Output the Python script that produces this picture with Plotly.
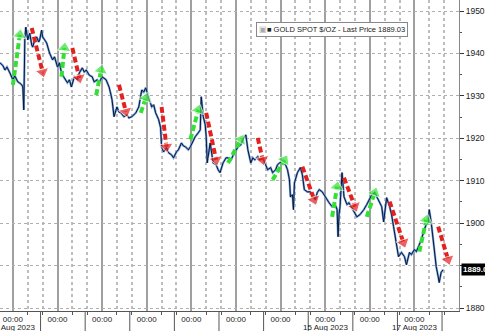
import plotly.graph_objects as go

# time in trading days since 4 Aug 2023 00:00, price in $/oz
t = [-0.289, -0.222, -0.178, -0.133, -0.067, 0.0, 0.044, 0.111, 0.156, 0.2, 0.222, 0.244, 0.267, 0.289,
     0.333, 0.378, 0.422, 0.444, 0.489, 0.533, 0.578, 0.6, 0.644, 0.667, 0.711, 0.756, 0.822, 0.889,
     0.933, 1.0, 1.044, 1.089, 1.156, 1.222, 1.267, 1.311, 1.378, 1.444, 1.489, 1.556, 1.6, 1.644,
     1.711, 1.778, 1.822, 1.889, 1.933, 2.0, 2.089, 2.156, 2.2, 2.222, 2.267, 2.333, 2.378, 2.422,
     2.489, 2.556, 2.6, 2.667, 2.756, 2.822, 2.889, 2.933, 2.978, 3.044, 3.111, 3.156, 3.2, 3.267,
     3.311, 3.333, 3.378, 3.444, 3.489, 3.556, 3.6, 3.667, 3.711, 3.778, 3.822, 3.867, 3.933, 3.978,
     4.044, 4.089, 4.156, 4.2, 4.222, 4.267, 4.311, 4.333, 4.356, 4.4, 4.422, 4.489, 4.556, 4.6,
     4.644, 4.711, 4.778, 4.822, 4.889, 4.933, 4.978, 5.044, 5.111, 5.156, 5.222, 5.267, 5.333,
     5.378, 5.422, 5.489, 5.533, 5.6, 5.644, 5.711, 5.778, 5.822, 5.889, 5.933, 5.978, 6.044, 6.111,
     6.156, 6.2, 6.222, 6.267, 6.289, 6.311, 6.378, 6.444, 6.489, 6.533, 6.6, 6.667, 6.711, 6.778,
     6.822, 6.867, 6.933, 7.0, 7.044, 7.089, 7.156, 7.222, 7.267, 7.289, 7.311, 7.333, 7.378, 7.422,
     7.489, 7.533, 7.6, 7.667, 7.711, 7.778, 7.867, 7.933, 8.0, 8.044, 8.111, 8.156, 8.2, 8.267,
     8.311, 8.356, 8.378, 8.444, 8.489, 8.533, 8.6, 8.644, 8.711, 8.778, 8.822, 8.867, 8.889, 8.933,
     9.0, 9.044, 9.089, 9.156, 9.222, 9.267, 9.311, 9.333, 9.378, 9.422, 9.444, 9.489, 9.533, 9.556,
     9.578, 9.6, 9.644]
price = [1937.8, 1937.1, 1936.1, 1936.8, 1935.4, 1933.8, 1934.7, 1933.3, 1933.0, 1932.6, 1932.1, 1926.7,
         1943.2, 1946.2, 1943.2, 1944.8, 1942.0, 1941.5, 1943.2, 1943.9, 1942.7, 1943.2, 1945.5, 1943.9,
         1943.2, 1942.5, 1940.1, 1938.5, 1939.2, 1936.8, 1937.8, 1935.4, 1934.2, 1933.1, 1933.8, 1932.1,
         1934.5, 1933.8, 1935.4, 1936.6, 1935.6, 1936.1, 1934.9, 1934.5, 1933.3, 1933.8, 1933.1, 1934.5,
         1933.8, 1932.1, 1930.2, 1929.1, 1925.1, 1927.4, 1926.2, 1926.0, 1925.1, 1925.5, 1924.8, 1925.1,
         1926.0, 1927.4, 1931.4, 1930.9, 1931.9, 1929.8, 1927.4, 1927.9, 1926.0, 1924.4, 1922.5, 1918.0,
         1916.8, 1917.8, 1916.6, 1916.1, 1915.4, 1916.8, 1917.3, 1918.9, 1918.2, 1918.0, 1917.3, 1918.0,
         1919.7, 1920.4, 1921.3, 1922.0, 1929.8, 1925.1, 1923.2, 1920.4, 1914.2, 1917.3, 1918.9, 1914.2,
         1913.8, 1912.6, 1911.9, 1914.2, 1915.4, 1915.4, 1914.9, 1915.9, 1916.6, 1918.0, 1918.5, 1919.7,
         1920.8, 1917.3, 1914.2, 1915.4, 1914.9, 1915.7, 1914.9, 1915.4, 1914.2, 1912.6, 1913.1, 1911.9,
         1912.6, 1913.8, 1914.2, 1914.5, 1913.8, 1912.6, 1910.2, 1906.2, 1906.7, 1903.2, 1909.5, 1911.9,
         1913.1, 1911.4, 1907.9, 1907.4, 1907.4, 1906.5, 1905.5, 1907.2, 1907.9, 1907.4, 1906.2, 1905.5,
         1904.8, 1903.9, 1904.4, 1903.2, 1896.8, 1902.0, 1903.9, 1911.9, 1906.2, 1904.4, 1904.8, 1903.6,
         1902.5, 1901.5, 1902.0, 1903.2, 1904.4, 1906.0, 1906.7, 1907.2, 1906.2, 1905.5, 1903.9, 1900.3,
         1904.4, 1906.0, 1903.9, 1902.0, 1899.2, 1894.5, 1892.1, 1893.1, 1892.1, 1890.2, 1891.9, 1893.1,
         1892.6, 1893.8, 1893.3, 1894.5, 1896.1, 1898.5, 1899.7, 1900.1, 1903.2, 1900.1, 1896.1, 1893.1,
         1889.8, 1887.4, 1886.0, 1887.2, 1888.4, 1889.03]

last_price = 1889.03

# annotation arrows: (t_start, p_start, t_end, p_end)
up_arrows = [(0.0, 1932.6, 0.156, 1944.4), (1.089, 1934.5, 1.156, 1941.3), (1.867, 1930.2, 1.978, 1936.1),
             (2.867, 1926.0, 2.978, 1929.5), (3.978, 1919.7, 4.156, 1926.7), (4.822, 1914.2, 5.111, 1919.7),
             (5.822, 1910.2, 6.089, 1914.9), (7.156, 1901.5, 7.267, 1908.6), (7.933, 1901.5, 8.111, 1907.2),
             (9.111, 1893.3, 9.267, 1900.8)]
down_arrows = [(0.422, 1946.0, 0.667, 1935.6), (1.333, 1941.3, 1.489, 1934.2), (2.378, 1932.6, 2.533, 1926.3),
               (3.333, 1927.4, 3.444, 1918.0), (4.333, 1926.0, 4.556, 1914.9), (5.489, 1920.1, 5.6, 1914.9),
               (6.489, 1913.3, 6.756, 1905.5), (7.422, 1910.7, 7.667, 1903.9), (8.444, 1905.1, 8.756, 1895.4),
               (9.533, 1899.2, 9.756, 1891.4)]

day_ticks = [0, 1, 2, 3, 4, 5, 6, 7, 8, 9]
day_labels = ["00:00"] * 10
date_days = [0, 7, 9]
date_labels = ["04 Aug 2023", "15 Aug 2023", "17 Aug 2023"]
price_ticks = [1880, 1890, 1900, 1910, 1920, 1930, 1940, 1950]
price_labels = ["1880", "", "1900", "1910", "1920", "1930", "1940", "1950"]

FONT = "Liberation Sans, Arial, sans-serif"

fig = go.Figure()
fig.add_trace(go.Scatter(x=t, y=price, mode="lines", line=dict(color="#6f9fdc", width=2.2), hoverinfo="skip"))
fig.add_trace(go.Scatter(x=t, y=price, mode="lines", line=dict(color="#0b1633", width=1)))

for arrows, color in [(up_arrows, "#35e035"), (down_arrows, "#e3221f")]:
    for (t0, p0, t1, p1) in arrows:
        fig.add_trace(go.Scatter(
            x=[t0, t1], y=[p0, p1], mode="lines+markers",
            line=dict(color=color, width=4, dash="6px,3px"),
            marker=dict(symbol="triangle-up", size=[0, 12], angleref="previous", color=color),
        ))

minor_vals = [d + f for d in range(-1, 10) for f in (1 / 3, 2 / 3)]

shapes = []
for d in range(-1, 10):
    shapes.append(dict(type="line", xref="x", yref="paper", x0=d + 0.62, x1=d + 0.62, y0=0, y1=-0.07,
                       line=dict(color="#555", width=1)))

annotations = [
    dict(xref="paper", yref="paper", x=0.557, y=0.905, xanchor="left", yanchor="middle",
         text="<span style='color:#aaa'>▣</span>■ GOLD SPOT $/OZ - Last Price 1889.03",
         showarrow=False, font=dict(family=FONT, size=7.5, color="#222"),
         bgcolor="white", bordercolor="#888", borderwidth=1, borderpad=2),
    dict(xref="paper", yref="y", x=1, y=last_price, xanchor="left", yanchor="middle", xshift=2,
         text="<b>1889.03</b>", showarrow=False, font=dict(family=FONT, size=8, color="white"),
         bgcolor="black", borderpad=1),
]
for d, lab in zip(date_days, date_labels):
    annotations.append(dict(xref="x", yref="paper", x=d, y=-0.031, yanchor="top", xanchor="center",
                            text=lab, showarrow=False, font=dict(family=FONT, size=8, color="#222")))

fig.update_layout(
    width=485, height=331,
    margin=dict(l=0, r=22, t=0, b=20),
    paper_bgcolor="white", plot_bgcolor="white",
    showlegend=False,
    shapes=shapes, annotations=annotations,
    xaxis=dict(range=[-0.289, 10], tickvals=day_ticks, ticktext=day_labels,
               showgrid=True, gridcolor="#a0a0a0", gridwidth=1.5,
               showline=True, linecolor="#555", linewidth=1,
               ticks="", ticklabelstandoff=0, tickfont=dict(family=FONT, size=8, color="#222"),
               minor=dict(tickvals=minor_vals, showgrid=True, gridcolor="#bdbdbd", griddash="dot",
                          ticks="outside", ticklen=3, tickcolor="#555"),
               zeroline=False),
    yaxis=dict(range=[1879.3, 1952.6], side="right", tickvals=price_ticks, ticktext=price_labels,
               showgrid=True, gridcolor="#b0b0b0", griddash="dot",
               showline=True, linecolor="#888", linewidth=1,
               ticks="outside", ticklen=4, tickcolor="#333",
               tickfont=dict(family=FONT, size=8.5, color="#222"),
               minor=dict(dtick=5, ticks="outside", ticklen=2, tickcolor="#555"),
               zeroline=False),
)

fig.write_html("out.html")
